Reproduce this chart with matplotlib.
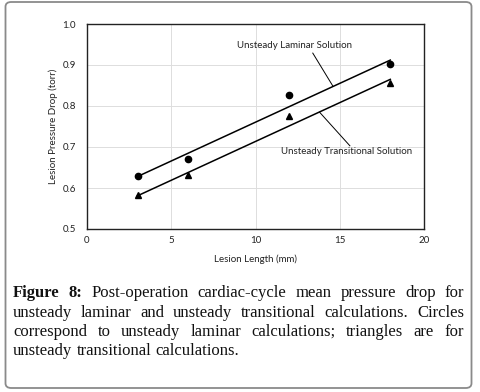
import matplotlib
matplotlib.use("Agg")
import matplotlib.pyplot as plt
from matplotlib.patches import FancyBboxPatch

lesion_length = [3, 6, 12, 18]
laminar = [0.630, 0.671, 0.826, 0.902]
transitional = [0.583, 0.632, 0.775, 0.857]
fit_x = [3, 18]
laminar_fit = [0.628, 0.912]
transitional_fit = [0.581, 0.865]

xticks = [0, 5, 10, 15, 20]
yticks = [0.5, 0.6, 0.7, 0.8, 0.9, 1.0]

caption_lines = [
    ["Figure", "8:", "Post-operation", "cardiac-cycle", "mean", "pressure", "drop", "for"],
    ["unsteady", "laminar", "and", "unsteady", "transitional", "calculations.", "Circles"],
    ["correspond", "to", "unsteady", "laminar", "calculations;", "triangles", "are", "for"],
    ["unsteady", "transitional", "calculations."],
]
bold_words = 2

W, H = 480, 392
fig = plt.figure(figsize=(W / 100, H / 100), dpi=100)
fig.patch.set_facecolor("white")

border = FancyBboxPatch((5.5 / W, 4 / H), 466 / W, 386 / H,
                        boxstyle="round,pad=0,rounding_size=0.012",
                        transform=fig.transFigure, facecolor="none",
                        edgecolor="#8a8a8a", linewidth=1.3)
fig.patches.append(border)

sans = "Lato"
fsz = 7
ax = fig.add_axes([87 / W, 1 - 229 / H, 337 / W, 205 / H])
ax.set_xlim(0, 20)
ax.set_ylim(0.5, 1.0)
ax.set_xticks(xticks)
ax.set_yticks(yticks)
ax.set_xticklabels([str(v) for v in xticks], fontsize=fsz, family=sans, color="#222222")
ax.set_yticklabels([f"{v:.1f}" for v in yticks], fontsize=fsz, family=sans, color="#222222")
ax.tick_params(axis="x", length=0, pad=5)
ax.tick_params(axis="y", length=0, pad=8)
ax.grid(True, color="#dddddd", linewidth=0.7)
ax.set_axisbelow(True)
for s in ax.spines.values():
    s.set_color("#222222")
    s.set_linewidth(1.0)

ax.plot(fit_x, laminar_fit, color="black", linewidth=1.1)
ax.plot(fit_x, transitional_fit, color="black", linewidth=1.1)
ax.plot(lesion_length, laminar, "o", color="black", markersize=4.5)
ax.plot(lesion_length, transitional, "^", color="black", markersize=4.5)

ax.plot([13.4, 14.6], [0.929, 0.848], color="black", linewidth=0.7)
ax.plot([13.8, 15.6], [0.785, 0.703], color="black", linewidth=0.7)
ax.text(12.3, 0.947, "Unsteady Laminar Solution", fontsize=fsz, family=sans,
        ha="center", va="center", color="#222222")
ax.text(15.4, 0.690, "Unsteady Transitional Solution", fontsize=fsz, family=sans,
        ha="center", va="center", color="#222222")

ax.set_xlabel("Lesion Length (mm)", fontsize=fsz, family=sans, color="#222222", labelpad=7)
ax.set_ylabel("Lesion Pressure Drop (torr)", fontsize=fsz, family=sans, color="#222222", labelpad=3)

# justified caption
fig.canvas.draw()
r = fig.canvas.get_renderer()
x0, x1 = 13, 464
ys = [297, 317, 336, 355]
fs = 12
for li, words in enumerate(caption_lines):
    texts = []
    for wi, w in enumerate(words):
        bold = (li == 0 and wi < bold_words)
        t = fig.text(0, 1 - ys[li] / H, w, fontsize=fs, family="Liberation Serif",
                     fontweight="bold" if bold else "normal", color="#111111",
                     ha="left", va="baseline")
        texts.append(t)
    widths = [t.get_window_extent(r).width for t in texts]
    last = li == len(caption_lines) - 1
    if last:
        gap = fs * 100 / 72 * 0.25
    else:
        gap = (x1 - x0 - sum(widths)) / (len(words) - 1)
    x = x0
    for t, w in zip(texts, widths):
        t.set_x(x / W)
        x += w + gap

fig.savefig("out.png", dpi=100)
